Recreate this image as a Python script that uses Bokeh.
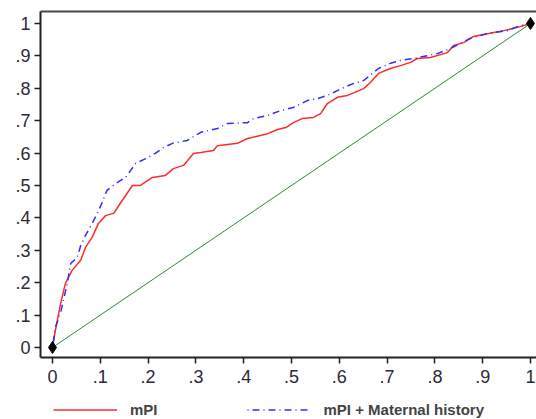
from bokeh.plotting import figure
from bokeh.layouts import column
from bokeh.models import (FixedTicker, LinearAxis, Legend, LegendItem)
from bokeh.embed import file_html
from bokeh.resources import INLINE

# ---- data ----
ticks = [0, 0.1, 0.2, 0.3, 0.4, 0.5, 0.6, 0.7, 0.8, 0.9, 1.0]
tick_labels = ["0", ".1", ".2", ".3", ".4", ".5", ".6", ".7", ".8", ".9", "1"]

mpi_fpr = [0, 0.006, 0.017, 0.027, 0.041, 0.059, 0.069, 0.083, 0.096, 0.111, 0.128,
           0.136, 0.153, 0.167, 0.184, 0.209, 0.236, 0.253, 0.274, 0.295, 0.31, 0.337,
           0.345, 0.387, 0.408, 0.45, 0.471, 0.49, 0.504, 0.523, 0.546, 0.561, 0.575,
           0.596, 0.617, 0.651, 0.665, 0.682, 0.707, 0.728, 0.749, 0.763, 0.791, 0.826,
           0.839, 0.86, 0.881, 0.923, 0.944, 0.973, 1.0]
mpi_tpr = [0, 0.052, 0.136, 0.198, 0.238, 0.269, 0.309, 0.340, 0.383, 0.407, 0.414,
           0.432, 0.469, 0.50, 0.50, 0.525, 0.531, 0.552, 0.562, 0.599, 0.602, 0.608,
           0.623, 0.630, 0.645, 0.660, 0.673, 0.68, 0.694, 0.707, 0.71, 0.722, 0.753,
           0.772, 0.778, 0.799, 0.818, 0.846, 0.861, 0.870, 0.880, 0.892, 0.895, 0.910,
           0.932, 0.941, 0.96, 0.972, 0.978, 0.988, 1.0]

mh_fpr = [0, 0.006, 0.017, 0.031, 0.038, 0.052, 0.059, 0.069, 0.083, 0.094, 0.104,
          0.114, 0.132, 0.153, 0.174, 0.195, 0.215, 0.232, 0.251, 0.282, 0.31, 0.345,
          0.366, 0.408, 0.421, 0.45, 0.477, 0.504, 0.533, 0.554, 0.575, 0.596, 0.609,
          0.63, 0.651, 0.682, 0.707, 0.728, 0.755, 0.805, 0.833, 0.874, 0.91, 0.952,
          0.979, 1.0]
mh_tpr = [0, 0.062, 0.108, 0.198, 0.259, 0.278, 0.315, 0.346, 0.383, 0.414, 0.448,
          0.485, 0.506, 0.525, 0.568, 0.583, 0.599, 0.617, 0.630, 0.639, 0.664, 0.676,
          0.691, 0.694, 0.707, 0.716, 0.731, 0.741, 0.762, 0.768, 0.778, 0.793, 0.802,
          0.815, 0.824, 0.861, 0.877, 0.886, 0.892, 0.907, 0.923, 0.954, 0.969, 0.978,
          0.994, 1.0]

ref_x = [0, 1]
ref_y = [0, 1]
series_labels = ["mPI", "mPI + Maternal history"]

FONT = "Liberation Sans"
RED = "#ff2a2a"
BLUE = "#2e2eff"
BLUE_DASH = "1 4 7 4"

p = figure(width=536, height=400, x_range=(-0.0251, 1.0126), y_range=(-0.0309, 1.037),
           output_backend="svg", toolbar_location=None,
           min_border_left=40, min_border_right=0, min_border_top=11, min_border_bottom=43)
p.grid.visible = False
p.outline_line_color = None
p.background_fill_color = "white"
p.border_fill_color = "white"

def style_axis(ax, standoff):
    ax.ticker = FixedTicker(ticks=ticks)
    ax.major_label_overrides = {t: l for t, l in zip(ticks, tick_labels)}
    ax.minor_tick_line_color = None
    ax.major_tick_in = 0
    ax.major_tick_out = 6
    ax.major_tick_line_color = "#222222"
    ax.major_tick_line_width = 1.5
    ax.axis_line_color = "#222222"
    ax.axis_line_width = 2
    ax.major_label_text_font = FONT
    ax.major_label_text_font_size = "18px"
    ax.major_label_text_color = "#2a2a3a"
    ax.major_label_standoff = standoff

style_axis(p.xaxis[0], 6)
style_axis(p.yaxis[0], 4)

top = LinearAxis(ticker=FixedTicker(ticks=[5]),
                 major_tick_line_color=None, minor_tick_line_color=None,
                 major_label_text_font_size="1px", major_label_text_alpha=0,
                 axis_line_color="#4a4a4a", axis_line_width=2, major_label_standoff=0)
p.add_layout(top, "above")

p.line(ref_x, ref_y, line_color="#2f8a2f", line_width=1)
p.line(mpi_fpr, mpi_tpr, line_color=RED, line_width=1.5)
p.line(mh_fpr, mh_tpr, line_color=BLUE, line_width=1.5, line_dash=BLUE_DASH)
p.scatter([0, 1], [0, 1], marker="diamond", size=12, color="black")

# legend strip below the plot
q = figure(width=536, height=19, x_range=(10, 11), y_range=(10, 11),
           output_backend="svg", toolbar_location=None,
           min_border_left=0, min_border_right=0, min_border_top=0, min_border_bottom=0,
           x_axis_location=None, y_axis_location=None)
q.grid.visible = False
q.outline_line_color = None
q.border_fill_color = "white"
# same series drawn out of view, only so the legend can show their swatches
l1 = q.line(mpi_fpr, mpi_tpr, line_color=RED, line_width=1.5)
l2 = q.line(mh_fpr, mh_tpr, line_color=BLUE, line_width=1.5, line_dash=BLUE_DASH)
legend = Legend(items=[LegendItem(label=series_labels[0], renderers=[l1]),
                       LegendItem(label=series_labels[1], renderers=[l2])],
                orientation="horizontal", location=(13, 1),
                glyph_width=64, glyph_height=15, label_height=15,
                label_standoff=13, spacing=89,
                padding=0, margin=0, border_line_color=None, background_fill_alpha=0,
                label_text_font=FONT, label_text_font_style="bold",
                label_text_font_size="15px")
q.add_layout(legend, "center")

layout = column(p, q, spacing=0)
open("out.html", "w").write(file_html(layout, INLINE))
